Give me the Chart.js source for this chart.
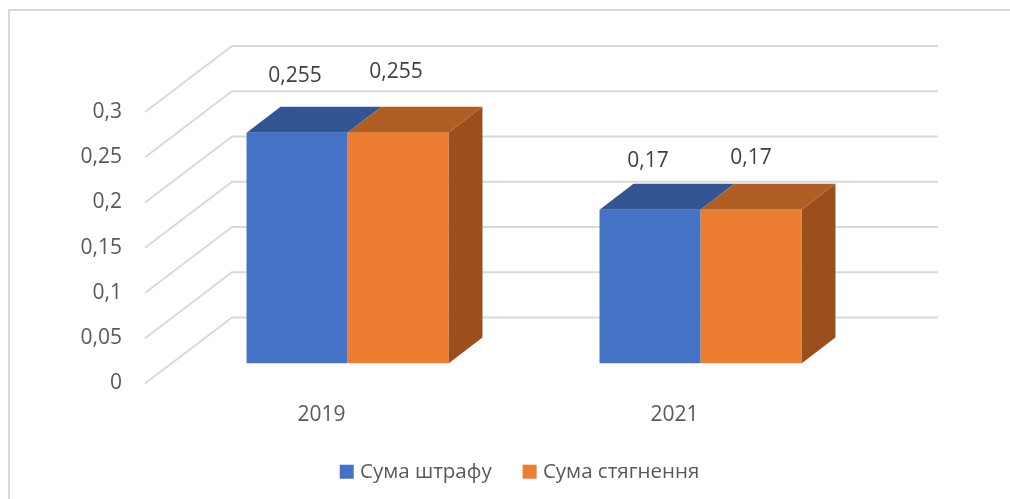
<!DOCTYPE html>
<html>
<head>
<meta charset="utf-8">
<script src="https://cdn.jsdelivr.net/npm/chart.js@4"></script>
<style>
    html, body { margin: 0; background: #fff; }
    #wrap { position: relative; width: 1010px; height: 499px; }
    #frame { position: absolute; left: 8px; top: 9px; right: 0; bottom: 0; border-left: 2px solid #d9d9d9; border-top: 2px solid #d9d9d9; }
</style>
</head>
<body>
<div id="wrap">
    <div id="frame"></div>
    <canvas id="myChart" width="1010" height="499"></canvas>
</div>
<script>
const categories = ["2019", "2021"];
const sumaShtrafu = [0.255, 0.17];
const sumaStyagnennya = [0.255, 0.17];
const yTickLabels = ["0", "0,05", "0,1", "0,15", "0,2", "0,25", "0,3"];
const seriesNames = ["Сума штрафу", "Сума стягнення"];
const valueLabels = [["0,255", "0,17"], ["0,255", "0,17"]];

// depth of the fake 3d box, in px
const wallDx = 87, wallDy = 66;   // floor front edge -> back wall
const barDx = 26, barDy = 20;     // floor front edge -> bar front
const depthX = 34, depthY = 26;   // bar front -> bar back
const labelLift = [[57, 49], [61, 52]];
const labelShift = [[-2, -2], [-2, 0]];

const topColors = ["#335593", "#B15E24"];
const sideColor = "#9A4F1C";

const box3d = {
    id: "box3d",
    beforeDatasetsDraw(chart) {
        const { ctx, chartArea, scales } = chart;
        const y = scales.y;

        // grid: diagonal on the side wall, then straight along the back wall
        ctx.save();
        ctx.strokeStyle = "#d9d9d9";
        ctx.lineWidth = 2;
        y.ticks.forEach((t) => {
            const py = y.getPixelForValue(t.value);
            ctx.beginPath();
            ctx.moveTo(chartArea.left, py);
            ctx.lineTo(chartArea.left + wallDx, py - wallDy);
            ctx.lineTo(chartArea.right + wallDx, py - wallDy);
            ctx.stroke();
        });
        ctx.restore();

        // bars are pushed back on to their plane, tops and sides go behind them
        ctx.save();
        ctx.translate(barDx, -barDy);
        chart.data.datasets.forEach((ds, i) => {
            chart.getDatasetMeta(i).data.forEach((bar) => {
                const l = bar.x - bar.width / 2, r = bar.x + bar.width / 2;
                // only the last series shows a side, the first one is hidden by its neighbour
                if (i === chart.data.datasets.length - 1) {
                    ctx.fillStyle = sideColor;
                    ctx.beginPath();
                    ctx.moveTo(r, bar.y);
                    ctx.lineTo(r + depthX, bar.y - depthY);
                    ctx.lineTo(r + depthX, bar.base - depthY);
                    ctx.lineTo(r, bar.base);
                    ctx.closePath();
                    ctx.fill();
                }
                ctx.fillStyle = topColors[i];
                ctx.beginPath();
                ctx.moveTo(l, bar.y);
                ctx.lineTo(l + depthX, bar.y - depthY);
                ctx.lineTo(r + depthX, bar.y - depthY);
                ctx.lineTo(r, bar.y);
                ctx.closePath();
                ctx.fill();
            });
        });
    },
    afterDatasetsDraw(chart) {
        const { ctx } = chart;
        ctx.fillStyle = "#404040";
        ctx.font = "21px 'Open Sans'";
        ctx.textAlign = "center";
        ctx.textBaseline = "middle";
        chart.data.datasets.forEach((ds, i) => {
            chart.getDatasetMeta(i).data.forEach((bar, j) => {
                ctx.fillText(valueLabels[i][j], bar.x + labelShift[i][j], bar.y - labelLift[i][j]);
            });
        });
        ctx.restore();
    },
    afterLayout(chart) {
        // legend is not centred on the chart area in the original
        chart.legend.left += 96;
        chart.legend.right += 96;
    },
};

const myChart = new Chart("myChart", {
    type: "bar",
    data: {
        labels: categories,
        datasets: [
            { label: seriesNames[0], data: sumaShtrafu, backgroundColor: "#4472C4" },
            { label: seriesNames[1], data: sumaStyagnennya, backgroundColor: "#ED7D31" },
        ],
    },
    options: {
        responsive: false,
        animation: false,
        categoryPercentage: 0.572,
        barPercentage: 1,
        layout: { padding: { left: 0, right: 159, top: 112, bottom: 7 } },
        plugins: {
            tooltip: { enabled: false },
            legend: {
                position: "bottom",
                labels: {
                    color: "#595959",
                    font: { family: "Open Sans", size: 20.5 },
                    boxWidth: 6,
                    boxHeight: 6,
                    padding: 35,
                    // thick border makes a 14px square with a tighter text gap
                    generateLabels(chart) {
                        return Chart.defaults.plugins.legend.labels.generateLabels(chart).map((item) => {
                            item.strokeStyle = item.fillStyle;
                            item.lineWidth = 8;
                            return item;
                        });
                    },
                },
            },
        },
        scales: {
            x: {
                grid: { display: false },
                border: { display: false },
                ticks: { color: "#595959", font: { family: "Open Sans", size: 21 }, padding: 11, maxRotation: 0 },
                afterFit(scale) { scale.height = 43; },
            },
            y: {
                min: 0,
                max: 0.3,
                grid: { display: false, drawTicks: false },
                border: { display: false },
                afterFit(scale) { scale.width = 145; },
                ticks: {
                    stepSize: 0.05,
                    color: "#595959",
                    font: { family: "Open Sans", size: 21 },
                    padding: 23,
                    callback(v, i) { return yTickLabels[i]; },
                },
            },
        },
    },
    plugins: [box3d],
});
</script>
</body>
</html>
